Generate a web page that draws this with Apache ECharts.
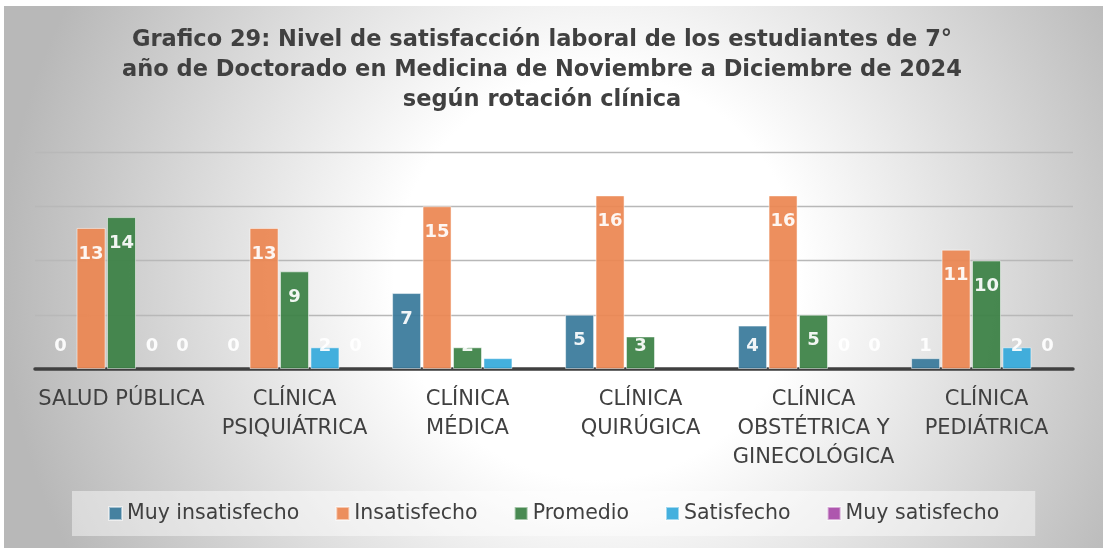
<!DOCTYPE html>
<html>
<head>
<meta charset="utf-8">
<script src="https://cdn.jsdelivr.net/npm/echarts@6/dist/echarts.min.js"></script>
<style>
html, body { margin: 0; padding: 0; background: #fff; }
#chart { position: absolute; left: 4px; top: 6px; width: 1099px; height: 542px; }
</style>
</head>
<body>
<div id="chart"></div>
<script>
const categories = [
    "SALUD PÚBLICA",
    "CLÍNICA\nPSIQUIÁTRICA",
    "CLÍNICA\nMÉDICA",
    "CLÍNICA\nQUIRÚGICA",
    "CLÍNICA\nOBSTÉTRICA Y\nGINECOLÓGICA",
    "CLÍNICA\nPEDIÁTRICA",
];
const seriesNames = ["Muy insatisfecho", "Insatisfecho", "Promedio", "Satisfecho", "Muy satisfecho"];
const muyInsatisfecho = [0, 0, 7, 5, 4, 1];
const insatisfecho = [13, 13, 15, 16, 16, 11];
const promedio = [14, 9, 2, 3, 5, 10];
const satisfecho = [0, 2, 1, 0, 0, 2];
const muySatisfecho = [0, 0, 0, 0, 0, 0];
const yTicks = [0, 5, 10, 15, 20];

const colors = ["#37789a", "#ec8550", "#398043", "#34a9db", "#a84aa8"];
const allValues = [muyInsatisfecho, insatisfecho, promedio, satisfecho, muySatisfecho];

// short bars: label sits just above the base, like Excel does
const lowLabel = { position: "insideBottom", distance: 14 };

const to_item = function (v) {
    if (v === 0) return { value: v, label: lowLabel, itemStyle: { borderWidth: 0 } };
    if (v < 5) return { value: v, label: lowLabel };
    return v;
};

const make_series = function (name, values, i) {
    return {
        name: name,
        type: "bar",
        barWidth: 29,
        barGap: "5%",
        itemStyle: {
            color: colors[i],
            opacity: 0.92,
            borderColor: "rgba(255,255,255,0.55)",
            borderWidth: 1,
        },
        label: {
            show: true,
            position: "insideTop",
            distance: 17,
            color: "#ffffff",
            fontFamily: "DejaVu Sans",
            fontWeight: "bold",
            fontSize: 18,
        },
        data: values.map(to_item),
    };
};

const chart = echarts.init(document.getElementById("chart"));
chart.setOption({
    animation: false,
    backgroundColor: {
        type: "radial",
        x: 0.54,
        y: 0.5,
        r: 1.1,
        colorStops: [
            { offset: 0, color: "#ffffff" },
            { offset: 0.34, color: "#ffffff" },
            { offset: 1, color: "#b8b8b8" },
        ],
    },
    title: {
        text: "Grafico 29: Nivel de satisfacción laboral de los estudiantes de 7°\naño de Doctorado en Medicina de Noviembre a Diciembre de 2024\nsegún rotación clínica",
        left: 538,
        top: 19,
        textAlign: "center",
        padding: 0,
        textStyle: {
            fontFamily: "DejaVu Sans",
            fontWeight: "bold",
            fontSize: 22.5,
            lineHeight: 30,
            color: "#404040",
        },
    },
    legend: {
        data: seriesNames,
        left: 68,
        top: 485,
        padding: [12, 36, 12, 36],
        backgroundColor: "rgba(255,255,255,0.45)",
        itemWidth: 13,
        itemHeight: 13,
        itemGap: 36,
        icon: "rect",
        textStyle: {
            fontFamily: "DejaVu Sans",
            fontSize: 20.5,
            color: "#404040",
        },
    },
    grid: {
        left: 31,
        top: 146,
        width: 1038,
        height: 217,
        containLabel: false,
    },
    xAxis: {
        type: "category",
        data: categories,
        axisTick: { show: false },
        axisLine: { lineStyle: { color: "#404040", width: 3.5 } },
        axisLabel: {
            margin: 16,
            interval: 0,
            fontFamily: "DejaVu Sans",
            fontSize: 21,
            lineHeight: 29,
            color: "#404040",
        },
    },
    yAxis: {
        type: "value",
        min: yTicks[0],
        max: yTicks[yTicks.length - 1],
        interval: yTicks[1] - yTicks[0],
        axisLabel: { show: false },
        axisLine: { show: false },
        axisTick: { show: false },
        splitLine: { lineStyle: { color: "#b8b8b8", width: 1.3 } },
    },
    series: seriesNames.map((name, i) => make_series(name, allValues[i], i)),
});
</script>
</body>
</html>
